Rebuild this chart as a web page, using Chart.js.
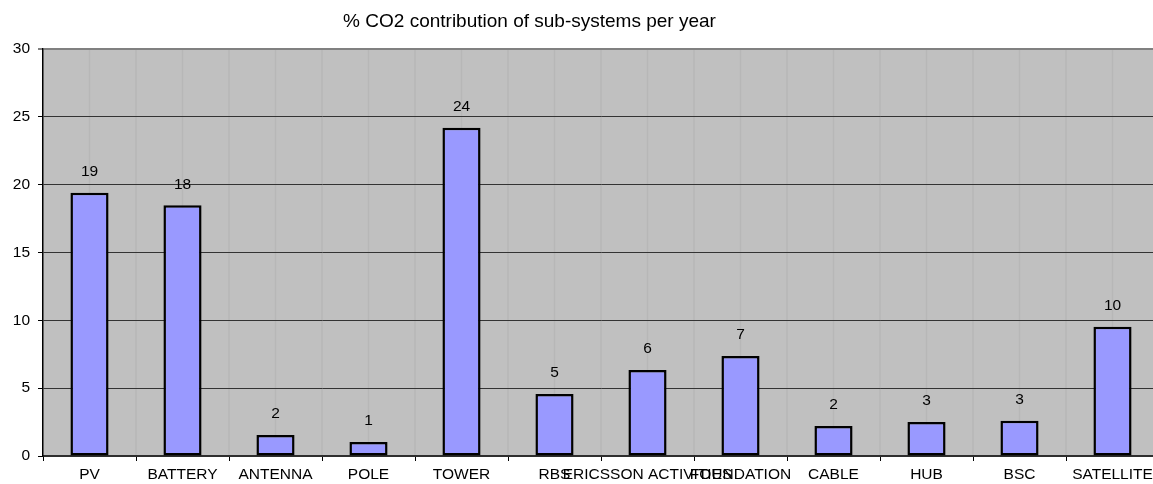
<!DOCTYPE html>
<html>
<head>
<meta charset="utf-8">
<script src="https://cdn.jsdelivr.net/npm/chart.js@4/dist/chart.umd.min.js"></script>
<style>
  html, body { margin: 0; padding: 0; background: #ffffff; overflow: hidden; }
  #wrap { width: 1165px; height: 484px; }
</style>
</head>
<body>
<div id="wrap"><canvas id="c" width="1165" height="484"></canvas></div>
<script>
// Sub-systems and their share of yearly CO2 (%)
const categories = ['PV', 'BATTERY', 'ANTENNA', 'POLE', 'TOWER', 'RBS', 'ERICSSON ACTIVITIES',
                    'FOUNDATION', 'CABLE', 'HUB', 'BSC', 'SATELLITE'];
const co2Share = [19.4, 18.48, 1.55, 1.03, 24.2, 4.57, 6.34, 7.37, 2.21, 2.5, 2.6, 9.52];
const yTicks = [0, 5, 10, 15, 20, 25, 30];
const chartTitle = '% CO2 contribution of sub-systems per year';

const FONT = "'Liberation Sans', Arial, Helvetica, sans-serif";

// Grey plot background plus faint vertical guides at category centres and boundaries
const plotBackground = {
  id: 'plotBackground',
  beforeDraw(chart) {
    const { ctx, chartArea: a, scales: { x } } = chart;
    ctx.save();
    ctx.fillStyle = '#c0c0c0';
    ctx.fillRect(a.left, a.top, a.right - a.left, a.bottom - a.top);
    ctx.strokeStyle = '#b7b7b7';
    ctx.lineWidth = 1.5;
    const n = categories.length;
    const half = (x.getPixelForValue(1) - x.getPixelForValue(0)) / 2;
    for (let i = 0; i < n; i++) {
      const c = x.getPixelForValue(i);
      [c, c + half].forEach(px => {
        ctx.beginPath();
        ctx.moveTo(px, a.top);
        ctx.lineTo(px, a.bottom);
        ctx.stroke();
      });
    }
    ctx.restore();
  }
};

// Title text and rounded value labels above each bar
const annotations = {
  id: 'annotations',
  afterDraw(chart) {
    const { ctx } = chart;
    ctx.save();
    ctx.fillStyle = '#000';
    ctx.font = '19px ' + FONT;
    ctx.textAlign = 'center';
    ctx.textBaseline = 'alphabetic';
    ctx.fillText(chartTitle, 529.5, 26.5);

    ctx.font = '15.5px ' + FONT;
    ctx.textBaseline = 'middle';
    const meta = chart.getDatasetMeta(0);
    meta.data.forEach((bar, i) => {
      ctx.fillText(String(Math.round(co2Share[i])), bar.x, bar.y - 21);
    });
    ctx.restore();
  }
};

new Chart(document.getElementById('c'), {
  type: 'bar',
  data: {
    labels: categories,
    datasets: [{
      data: co2Share,
      backgroundColor: '#9999ff',
      borderColor: '#000000',
      borderWidth: 2.5,
      borderSkipped: false,
      barPercentage: 0.41,
      categoryPercentage: 1.0
    }]
  },
  options: {
    responsive: false,
    animation: false,
    events: [],
    layout: { padding: { top: 49, right: 6, bottom: 0, left: 0 } },
    plugins: {
      legend: { display: false },
      title: { display: false },
      tooltip: { enabled: false }
    },
    scales: {
      x: {
        offset: true,
        grid: {
          offset: true,
          drawOnChartArea: false,
          drawTicks: true,
          tickLength: 5,
          tickColor: '#000000',
          tickWidth: 1
        },
        border: { display: true, color: '#2e2e2e', width: 2 },
        ticks: {
          autoSkip: false,
          maxRotation: 0,
          minRotation: 0,
          padding: 4,
          color: '#000',
          font: { family: FONT, size: 15.5 }
        },
        afterFit(scale) { scale.height = 28; }
      },
      y: {
        min: 0,
        max: 30,
        afterBuildTicks(scale) { scale.ticks = yTicks.map(v => ({ value: v })); },
        grid: {
          color: ctx => (ctx.tick && ctx.tick.value === 30) ? '#808080' : '#333333',
          lineWidth: ctx => (ctx.tick && ctx.tick.value === 30) ? 2 : 1,
          tickColor: '#000000',
          tickLength: 5,
          tickWidth: 1
        },
        border: { display: true, color: '#000000', width: 1.5 },
        ticks: {
          padding: 8,
          color: '#000',
          font: { family: FONT, size: 15.5 }
        },
        afterFit(scale) { scale.width = 43; }
      }
    }
  },
  plugins: [plotBackground, annotations]
});
</script>
</body>
</html>
